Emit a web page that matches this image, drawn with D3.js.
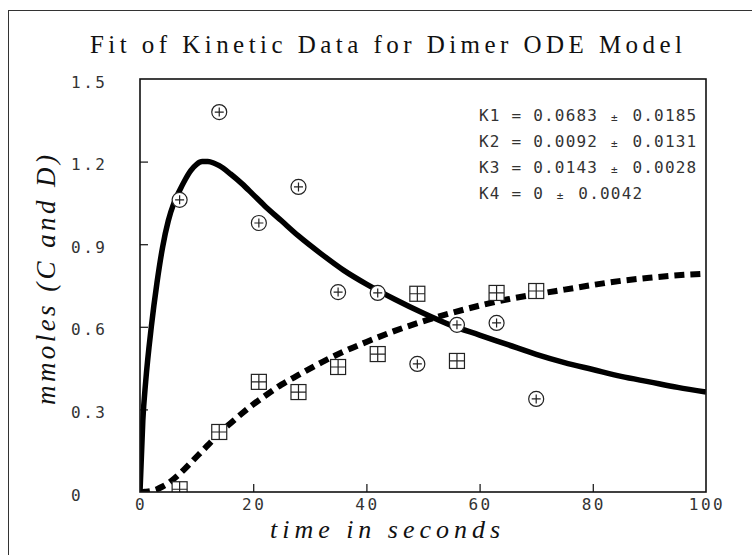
<!DOCTYPE html>
<html>
<head>
<meta charset="utf-8">
<script src="https://cdn.jsdelivr.net/npm/d3@7"></script>
<style>
  body { margin: 0; background: #fff; }
  svg { display: block; }
</style>
</head>
<body>
<main></main>
<script>
const width = 752;
const height = 555;
const margin = { top: 79, right: 46, bottom: 63, left: 140 };

// measured samples (C = circles, D = squares)
const sampleTimes = [7, 14, 21, 28, 35, 42, 49, 56, 63, 70];
const cValues = [1.061, 1.38, 0.977, 1.108, 0.726, 0.723, 0.465, 0.607, 0.614, 0.338];
const dValues = [0.01, 0.218, 0.4, 0.363, 0.454, 0.501, 0.72, 0.476, 0.723, 0.73];

// fitted curves
const fitTimes = [0, 0.5, 1, 2, 3, 4, 5, 6, 7, 8, 9, 10, 11, 12, 13, 14, 16, 18, 20, 22, 25, 28, 32, 36, 40, 45, 50, 55, 60, 65, 70, 75, 80, 85, 90, 95, 100];
const cFit = [0, 0.26, 0.4, 0.6, 0.76, 0.89, 0.985, 1.05, 1.095, 1.135, 1.168, 1.19, 1.2, 1.2, 1.195, 1.185, 1.155, 1.12, 1.08, 1.04, 0.985, 0.93, 0.865, 0.805, 0.755, 0.7, 0.65, 0.605, 0.57, 0.535, 0.5, 0.47, 0.445, 0.42, 0.4, 0.38, 0.363];
const dFit = [0, 0, 0.001, 0.004, 0.01, 0.02, 0.032, 0.048, 0.066, 0.086, 0.107, 0.128, 0.149, 0.17, 0.192, 0.213, 0.25, 0.285, 0.318, 0.348, 0.39, 0.425, 0.47, 0.51, 0.545, 0.585, 0.62, 0.65, 0.677, 0.7, 0.718, 0.735, 0.752, 0.767, 0.778, 0.787, 0.793];

const xTicks = [0, 20, 40, 60, 80, 100];
const yTicks = [0, 0.3, 0.6, 0.9, 1.2, 1.5];
const yTickLabels = ["0", "0.3", "0.6", "0.9", "1.2", "1.5"];

const paramNames = ["K1", "K2", "K3", "K4"];
const paramValues = ["0.0683", "0.0092", "0.0143", "0"];
const paramErrors = ["0.0185", "0.0131", "0.0028", "0.0042"];

const monoFont = "'DejaVu Sans Mono', monospace";
const serifFont = "'Liberation Serif', 'DejaVu Serif', serif";

const svg = d3.select("main").append("svg").attr("width", width).attr("height", height);

// outer frame
svg
  .append("rect")
  .attr("x", 8.5)
  .attr("y", 10.5)
  .attr("width", width)
  .attr("height", height)
  .attr("fill", "none")
  .attr("stroke", "#333")
  .attr("stroke-width", 1);

const xScale = d3.scaleLinear().domain([0, 100]).range([margin.left, width - margin.right]);
const yScale = d3.scaleLinear().domain([0, 1.5]).range([height - margin.bottom, margin.top]);

svg
  .append("defs")
  .append("clipPath")
  .attr("id", "plot-clip")
  .append("rect")
  .attr("x", margin.left)
  .attr("y", margin.top)
  .attr("width", width - margin.left - margin.right)
  .attr("height", height - margin.top - margin.bottom);

// title
svg
  .append("text")
  .attr("x", 386)
  .attr("y", 53)
  .attr("text-anchor", "middle")
  .attr("textLength", 592)
  .attr("lengthAdjust", "spacing")
  .style("font-family", serifFont)
  .style("font-size", "25px")
  .style("fill", "#111")
  .text("Fit of Kinetic Data for Dimer ODE Model");

// axes (inward ticks, interior only)
const xAxis = d3
  .axisBottom(xScale)
  .tickValues(xTicks.slice(1, -1))
  .tickSize(-8)
  .tickFormat("");
const yAxis = d3
  .axisLeft(yScale)
  .tickValues(yTicks.slice(1, -1))
  .tickSize(-8)
  .tickFormat("");

svg
  .append("g")
  .attr("transform", `translate(0, ${height - margin.bottom})`)
  .call(xAxis)
  .call((g) => g.select(".domain").remove())
  .selectAll("line")
  .attr("stroke", "#222")
  .attr("stroke-width", 1.3);

svg
  .append("g")
  .attr("transform", `translate(${margin.left}, 0)`)
  .call(yAxis)
  .call((g) => g.select(".domain").remove())
  .selectAll("line")
  .attr("stroke", "#222")
  .attr("stroke-width", 1.3);

// tick labels
svg
  .append("g")
  .selectAll("text")
  .data(xTicks)
  .enter()
  .append("text")
  .attr("x", (d) => xScale(d) + 1)
  .attr("y", height - margin.bottom + 18)
  .attr("text-anchor", "middle")
  .style("font-family", monoFont)
  .style("font-size", "16px")
  .style("letter-spacing", "2.5px")
  .style("fill", "#333")
  .text((d) => d);

svg
  .append("g")
  .selectAll("text")
  .data(yTicks)
  .enter()
  .append("text")
  .attr("x", 71)
  .attr("y", (d) => yScale(d) + 8.5)
  .style("font-family", monoFont)
  .style("font-size", "16px")
  .style("letter-spacing", "2.5px")
  .style("fill", "#333")
  .text((d, i) => yTickLabels[i]);

// axis titles
svg
  .append("text")
  .attr("x", 385)
  .attr("y", 538)
  .attr("text-anchor", "middle")
  .attr("textLength", 230)
  .attr("lengthAdjust", "spacing")
  .style("font-family", serifFont)
  .style("font-style", "italic")
  .style("font-size", "26px")
  .style("fill", "#111")
  .text("time in seconds");

svg
  .append("text")
  .attr("transform", "translate(55, 280) rotate(-90)")
  .attr("text-anchor", "middle")
  .attr("textLength", 250)
  .attr("lengthAdjust", "spacing")
  .style("font-family", serifFont)
  .style("font-style", "italic")
  .style("font-size", "27px")
  .style("fill", "#111")
  .text("mmoles (C and D)");

// fitted curves
const plot = svg.append("g").attr("clip-path", "url(#plot-clip)");

const line = d3
  .line()
  .x((d) => xScale(d[0]))
  .y((d) => yScale(d[1]))
  .curve(d3.curveMonotoneX);

plot
  .append("path")
  .datum(fitTimes.map((t, i) => [t, dFit[i]]))
  .attr("d", line)
  .attr("fill", "none")
  .attr("stroke", "#000")
  .attr("stroke-width", 6)
  .attr("stroke-dasharray", "10,6");

plot
  .append("path")
  .datum(fitTimes.map((t, i) => [t, cFit[i]]))
  .attr("d", line)
  .attr("fill", "none")
  .attr("stroke", "#000")
  .attr("stroke-width", 5.5)
  .attr("stroke-linejoin", "round");

// sample markers
const circleMarks = plot
  .selectAll(".c-point")
  .data(sampleTimes.map((t, i) => [t, cValues[i]]))
  .enter()
  .append("g")
  .attr("class", "c-point")
  .attr("transform", (d) => `translate(${xScale(d[0])}, ${yScale(d[1])})`)
  .attr("fill", "none")
  .attr("stroke", "#222")
  .attr("stroke-width", 1.2);
circleMarks.append("circle").attr("r", 7.5).attr("fill", "#fff");
circleMarks.append("path").attr("d", "M-4.5,0H4.5M0,-4.5V4.5");

const squareMarks = plot
  .selectAll(".d-point")
  .data(sampleTimes.map((t, i) => [t, dValues[i]]))
  .enter()
  .append("g")
  .attr("class", "d-point")
  .attr("transform", (d) => `translate(${xScale(d[0])}, ${yScale(d[1])})`)
  .attr("fill", "none")
  .attr("stroke", "#222")
  .attr("stroke-width", 1.2);
squareMarks.append("rect").attr("x", -7.5).attr("y", -7.5).attr("width", 15).attr("height", 15).attr("fill", "#fff");
squareMarks.append("path").attr("d", "M-7.5,0H7.5M0,-7.5V7.5");

// plot frame
svg
  .append("rect")
  .attr("x", margin.left)
  .attr("y", margin.top)
  .attr("width", width - margin.left - margin.right)
  .attr("height", height - margin.top - margin.bottom)
  .attr("fill", "none")
  .attr("stroke", "#111")
  .attr("stroke-width", 1.6);

// fitted parameters
const params = svg
  .append("g")
  .selectAll("text")
  .data(paramNames)
  .enter()
  .append("text")
  .attr("x", 479)
  .attr("y", (d, i) => 121 + i * 26)
  .style("font-family", monoFont)
  .style("font-size", "16px")
  .style("letter-spacing", "1.2px")
  .style("fill", "#333")
  .attr("xml:space", "preserve");

params.append("tspan").text((d, i) => `${d} = ${paramValues[i]} `);
params.append("tspan").style("font-size", "11px").style("letter-spacing", "4px").attr("dx", 2).text("±");
params.append("tspan").text((d, i) => ` ${paramErrors[i]}`);
</script>
</body>
</html>
